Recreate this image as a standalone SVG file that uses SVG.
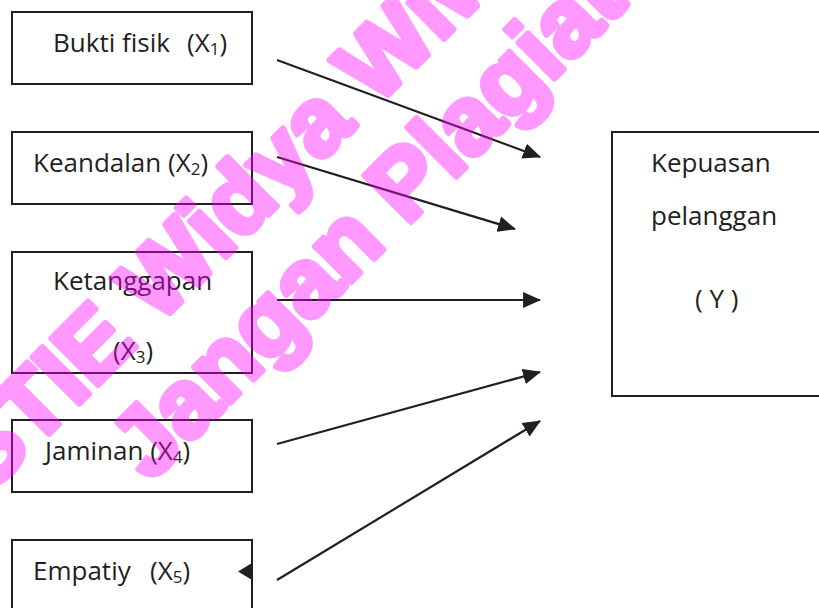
<svg xmlns="http://www.w3.org/2000/svg" width="819" height="608" viewBox="0 0 819 608">
<style>
.box{fill:#fff;stroke:#231f20;stroke-width:2}
.t{font-family:"Open Sans","Noto Sans","Liberation Sans",sans-serif;font-size:26px;fill:#231f20}
.s{font-size:17px}
.c{stroke:#231f20;stroke-width:2.2;fill:none}
.wm{font-family:"Liberation Sans",Arial,sans-serif;font-weight:bold;font-size:96px;fill:#ff00ff;stroke:#ff00ff;stroke-width:6;stroke-linejoin:round}
</style>
<defs>
<marker id="ah" markerUnits="userSpaceOnUse" markerWidth="18" markerHeight="16" viewBox="0 0 17 15" refX="16" refY="7.5" orient="auto">
<path d="M0,0 L17,7.5 L0,15 z" fill="#231f20"/>
</marker>
</defs>
<rect width="819" height="608" fill="#fff"/>
<g id="x1">
<rect class="box" x="12" y="12" width="240" height="72"/>
<text class="t" x="53" y="52">Bukti fisik</text>
<text class="t" x="187" y="52">(X<tspan class="s" dy="3">1</tspan><tspan dy="-3">)</tspan></text>
</g>
<g id="x2">
<rect class="box" x="12" y="132" width="240" height="72"/>
<text class="t" x="33" y="172">Keandalan (X<tspan class="s" dy="3">2</tspan><tspan dy="-3">)</tspan></text>
</g>
<g id="x3">
<rect class="box" x="12" y="252" width="240" height="121"/>
<text class="t" x="53" y="290">Ketanggapan</text>
<text class="t" x="113" y="360">(X<tspan class="s" dy="3">3</tspan><tspan dy="-3">)</tspan></text>
</g>
<g id="x4">
<rect class="box" x="12" y="420" width="240" height="72"/>
<text class="t" x="45" y="460">Jaminan (X<tspan class="s" dy="3">4</tspan><tspan dy="-3">)</tspan></text>
</g>
<g id="x5">
<rect class="box" x="12" y="540" width="240" height="100"/>
<text class="t" x="33" y="580">Empatiy</text>
<text class="t" x="150" y="580">(X<tspan class="s" dy="3">5</tspan><tspan dy="-3">)</tspan></text>
<polygon points="252,563 238,571.5 252,580" fill="#231f20"/>
</g>
<g id="y">
<rect class="box" x="612" y="132" width="230" height="264"/>
<text class="t" x="651" y="172">Kepuasan</text>
<text class="t" x="651" y="225">pelanggan</text>
<text class="t" x="695" y="308">( Y )</text>
</g>
<g id="connectors">
<line class="c" x1="277" y1="60" x2="540" y2="157" marker-end="url(#ah)"/>
<line class="c" x1="277" y1="157" x2="515" y2="229" marker-end="url(#ah)"/>
<line class="c" x1="277" y1="300" x2="540" y2="300" marker-end="url(#ah)"/>
<line class="c" x1="277" y1="444" x2="540" y2="372" marker-end="url(#ah)"/>
<line class="c" x1="277" y1="580" x2="540" y2="421" marker-end="url(#ah)"/>
</g>
<g id="watermark" opacity="0.4">
<text class="wm" transform="translate(-12,495) rotate(-45)">STIE Widya Wiwaha</text>
<text class="wm" transform="translate(150,483) rotate(-45)">Jangan Plagiat</text>
</g>
</svg>
